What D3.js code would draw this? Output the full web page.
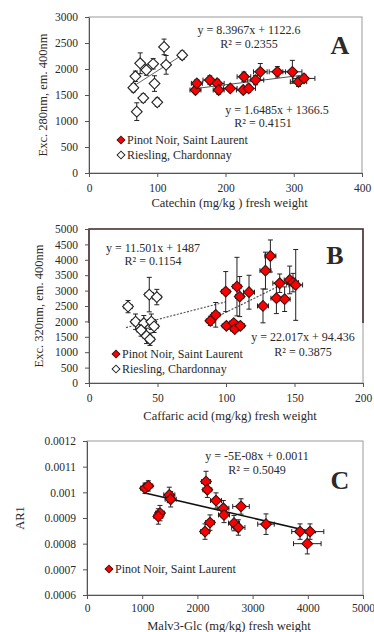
<!DOCTYPE html>
<html>
<head>
<meta charset="utf-8">
<script src="https://cdn.jsdelivr.net/npm/d3@7"></script>
<style>
  body { margin: 0; background: #fff; }
  svg { display: block; }
  text { font-family: "Liberation Serif", "Times New Roman", Times, "DejaVu Serif", serif; fill: #2a2a2a; }
</style>
</head>
<body>
<svg id="chart" width="374" height="632"></svg>
<script>
// every point is [x, y, xErr, yErr]

// panel A - catechin vs exc 280nm
const aPinot = [
  [156, 1596, 8, 70], [158, 1723, 8, 70], [177, 1787, 10, 80], [188, 1723, 10, 80],
  [190, 1596, 8, 80], [207, 1627, 10, 60], [226, 1596, 10, 60], [227, 1851, 10, 90],
  [234, 1627, 10, 80], [244, 1787, 12, 90], [251, 1946, 10, 160], [276, 1946, 12, 100],
  [298, 1946, 14, 220], [307, 1755, 12, 90], [315, 1819, 16, 80]
];
const aRiesling = [
  [70, 1180, 4, 170], [79.5, 1440, 4, 80], [100, 1360, 4, 80], [65, 1640, 4, 80],
  [68, 1860, 4, 100], [75, 2110, 4, 200], [84, 1980, 4, 100], [94, 2100, 4, 100],
  [96, 1720, 4, 150], [110, 2425, 4, 150], [113, 2080, 5, 180], [136.6, 2265, 5, 80]
];
// trend: [slope, intercept, xFrom, xTo]
const aTrendPinot = [1.6485, 1366.5, 156, 316];
const aTrendRiesling = [8.3967, 1122.6, 65, 137];
const aXTicks = [0, 100, 200, 300, 400];
const aYTicks = [0, 500, 1000, 1500, 2000, 2500, 3000];

// panel B - caftaric acid vs exc 320nm
const bPinot = [
  [88.6, 2019, 3, 150], [92.5, 2214, 3, 400], [99.8, 2968, 3, 650], [108, 3130, 3, 950],
  [110, 2806, 3, 650], [116.8, 2948, 4, 550], [100.3, 1857, 3, 110], [105.6, 1944, 3, 100],
  [106.4, 1750, 3, 100], [110.5, 1857, 3, 100], [127, 2504, 4, 550], [128.8, 3648, 4, 600],
  [132.4, 4124, 4, 520], [136.8, 2753, 4, 500], [142.8, 2721, 4, 400], [139.2, 3239, 5, 300],
  [146.5, 3346, 4, 450], [148.9, 3259, 4, 300], [150.9, 3184, 5, 1150]
];
const bRiesling = [
  [28.5, 2480, 3, 200], [44, 2870, 3, 560], [49.5, 2790, 3, 250], [34, 1990, 3, 250],
  [40, 1940, 3, 250], [45.5, 1990, 3, 250], [47.5, 1840, 3, 200], [42, 1530, 3, 250],
  [44.5, 1420, 3, 200], [38, 1720, 3, 200]
];
const bTrendPinot = [22.017, 94.436, 88, 151];
const bTrendRiesling = [11.501, 1487, 27, 100];
const bXTicks = [0, 50, 100, 150, 200];
const bYTicks = [0, 500, 1000, 1500, 2000, 2500, 3000, 3500, 4000, 4500, 5000];

// panel C - malv3-glc vs AR1
const cPinot = [
  [1051, 0.001016, 80, 0.00002], [1111, 0.001025, 80, 0.00002], [1491, 0.00099, 100, 0.00003],
  [1516, 0.000973, 100, 0.00003], [1322, 0.000919, 80, 0.00003], [1292, 0.000906, 80, 0.00003],
  [2156, 0.001042, 80, 0.00004], [2180, 0.00101, 80, 0.00003], [2337, 0.000968, 100, 0.00003],
  [2470, 0.000938, 100, 0.00003], [2482, 0.000912, 100, 0.00003], [2790, 0.000945, 150, 0.00003],
  [2228, 0.000882, 80, 0.00003], [2138, 0.000847, 80, 0.00003], [2663, 0.00088, 100, 0.00003],
  [2741, 0.000863, 120, 0.00003], [3243, 0.000876, 150, 0.00004], [3859, 0.000847, 150, 0.00003],
  [4040, 0.000847, 250, 0.00003], [3991, 0.0008, 250, 0.00004]
];
const cTrendPinot = [-5e-8, 0.00105, 1050, 4150];
const cXTicks = [0, 1000, 2000, 3000, 4000, 5000];
const cYTicks = [0.0006, 0.0007, 0.0008, 0.0009, 0.001, 0.0011, 0.0012];

const svg = d3.select('#chart');
const FONT = '"Liberation Serif", "Times New Roman", Times, serif';
const diamond = d3.symbol(d3.symbolSquare).size(58);

function drawPanel(p) {
  const g = svg.append('g');
  const x = d3.scaleLinear().domain(d3.extent(p.xTicks)).range([p.l, p.r]);
  const y = d3.scaleLinear().domain(d3.extent(p.yTicks)).range([p.b, p.t]);

  // grey frame (excel plot area)
  g.append('rect')
    .attr('x', p.l).attr('y', p.t)
    .attr('width', p.r - p.l).attr('height', p.b - p.t)
    .attr('fill', 'none').attr('stroke', '#9a9a9a').attr('stroke-width', 1);

  if (p.darkEdge != null) {
    const ye = y(p.darkEdge);
    g.append('path')
      .attr('d', `M${p.l},${ye}V${p.t}H${p.r}V${ye}`)
      .attr('fill', 'none').attr('stroke', '#4a3434').attr('stroke-width', 1.6);
  }

  const xa = g.append('g')
    .attr('transform', `translate(0,${p.b})`)
    .call(d3.axisBottom(x).tickValues(p.xTicks).tickSize(4).tickSizeOuter(0).tickPadding(p.xPad).tickFormat(d3.format('d')));
  const ya = g.append('g')
    .attr('transform', `translate(${p.l},0)`)
    .call(d3.axisLeft(y).tickValues(p.yTicks).tickSize(4).tickSizeOuter(0).tickPadding(7).tickFormat(p.yFormat));
  [xa, ya].forEach(a => {
    a.attr('font-family', FONT);
    a.select('.domain').attr('stroke', '#555');
    a.selectAll('.tick line').attr('stroke', '#555');
    a.selectAll('.tick text').attr('font-size', 11.5).attr('fill', '#2a2a2a');
  });

  // trend lines
  p.trends.forEach(t => {
    const [m, c, x0, x1] = t.v;
    g.append('line')
      .attr('x1', x(x0)).attr('y1', y(m * x0 + c))
      .attr('x2', x(x1)).attr('y2', y(m * x1 + c))
      .attr('stroke', t.color).attr('stroke-width', t.w)
      .attr('stroke-dasharray', t.dash || null);
  });

  // series: error bars then markers
  p.series.forEach(s => {
    const eb = g.append('g').attr('stroke', '#222').attr('stroke-width', 1);
    s.data.forEach(d => {
      const [vx, vy, ex, ey] = d;
      const cx = x(vx), cy = y(vy);
      const yt = y(vy + ey), yb = y(vy - ey), xl = x(vx - ex), xr = x(vx + ex);
      eb.append('path').attr('fill', 'none')
        .attr('d', `M${cx},${yt}V${yb}M${cx - 2.5},${yt}H${cx + 2.5}M${cx - 2.5},${yb}H${cx + 2.5}` +
                   `M${xl},${cy}H${xr}M${xl},${cy - 2.5}V${cy + 2.5}M${xr},${cy - 2.5}V${cy + 2.5}`);
    });
    g.append('g').selectAll('path')
      .data(s.data)
      .join('path')
      .attr('d', diamond)
      .attr('transform', d => `translate(${x(d[0])},${y(d[1])}) rotate(45)`)
      .attr('fill', s.fill).attr('stroke', s.stroke).attr('stroke-width', 1.1);
  });

  // legend
  p.legend.forEach((l, i) => {
    const ly = p.legendY + i * 15;
    g.append('path').attr('d', d3.symbol(d3.symbolSquare).size(30))
      .attr('transform', `translate(${p.legendX},${ly}) rotate(45)`)
      .attr('fill', l.fill).attr('stroke', l.stroke).attr('stroke-width', 1);
    g.append('text').attr('x', p.legendX + 6).attr('y', ly + 4)
      .attr('font-size', 12).text(l.name);
  });

  // equations
  p.eqs.forEach(e => {
    g.append('text').attr('x', e.x).attr('y', e.y).attr('text-anchor', 'middle')
      .attr('font-size', 12).text(e.t);
  });

  g.append('text').attr('x', p.letter[0]).attr('y', p.letter[1]).attr('text-anchor', 'middle')
    .attr('font-size', 26).attr('font-weight', 'bold').attr('fill', '#111').text(p.letter[2]);

  g.append('text').attr('x', (p.l + p.r) / 2 + 4).attr('y', p.xTitleY).attr('text-anchor', 'middle')
    .attr('font-size', 12.5).text(p.xTitle);
  g.append('text').attr('transform', `translate(${p.yTitleX},${(p.t + p.b) / 2}) rotate(-90)`)
    .attr('text-anchor', 'middle').attr('font-size', 12.5).text(p.yTitle);
}

const red = { fill: '#ff0000', stroke: '#3a1414' };
const white = { fill: '#ffffff', stroke: '#222' };

drawPanel({
  l: 89, r: 362, t: 17, b: 173, xPad: 7,
  xTicks: aXTicks, yTicks: aYTicks, yFormat: d3.format('d'),
  series: [
    { data: aRiesling, ...white },
    { data: aPinot, ...red }
  ],
  trends: [
    { v: aTrendRiesling, color: '#666', w: 1 },
    { v: aTrendPinot, color: '#555', w: 1 }
  ],
  legendX: 121, legendY: 140,
  legend: [
    { name: 'Pinot Noir, Saint Laurent', ...red },
    { name: 'Riesling, Chardonnay', ...white }
  ],
  eqs: [
    { x: 249, y: 34, t: 'y = 8.3967x + 1122.6' },
    { x: 249, y: 48, t: 'R² = 0.2355' },
    { x: 277, y: 114, t: 'y = 1.6485x + 1366.5' },
    { x: 263, y: 127, t: 'R² = 0.4151' }
  ],
  letter: [340, 54, 'A'],
  xTitle: 'Catechin (mg/kg ) fresh weight', xTitleY: 207,
  yTitle: 'Exc. 280nm, em. 400nm', yTitleX: 47
});

drawPanel({
  l: 89, r: 363, t: 229, b: 383, xPad: 7,
  xTicks: bXTicks, yTicks: bYTicks, yFormat: d3.format('d'), darkEdge: 1950,
  series: [
    { data: bRiesling, ...white },
    { data: bPinot, ...red }
  ],
  trends: [
    { v: bTrendRiesling, color: '#555', w: 1.2, dash: '2,1.5' },
    { v: bTrendPinot, color: '#555', w: 1.2, dash: '2,1.5' }
  ],
  legendX: 116, legendY: 354,
  legend: [
    { name: 'Pinot Noir, Saint Laurent', ...red },
    { name: 'Riesling, Chardonnay', ...white }
  ],
  eqs: [
    { x: 153, y: 252, t: 'y = 11.501x + 1487' },
    { x: 153, y: 265, t: 'R² = 0.1154' },
    { x: 303, y: 341, t: 'y = 22.017x + 94.436' },
    { x: 303, y: 356, t: 'R² = 0.3875' }
  ],
  letter: [335, 264, 'B'],
  xTitle: 'Caffaric acid (mg/kg) fresh weight', xTitleY: 420,
  yTitle: 'Exc. 320nm, em. 400nm', yTitleX: 43
});

drawPanel({
  l: 87, r: 363, t: 441, b: 595, xPad: 5,
  xTicks: cXTicks, yTicks: cYTicks, yFormat: d => d3.format('.4~f')(d),
  series: [
    { data: cPinot, ...red }
  ],
  trends: [
    { v: cTrendPinot, color: '#111', w: 1.6 }
  ],
  legendX: 109, legendY: 569,
  legend: [
    { name: 'Pinot Noir, Saint Laurent', ...red }
  ],
  eqs: [
    { x: 257, y: 460, t: 'y = -5E-08x + 0.0011' },
    { x: 257, y: 474, t: 'R² = 0.5049' }
  ],
  letter: [340, 489, 'C'],
  xTitle: 'Malv3-Glc (mg/kg) fresh weight', xTitleY: 630,
  yTitle: 'AR1', yTitleX: 24
});
</script>
</body>
</html>
